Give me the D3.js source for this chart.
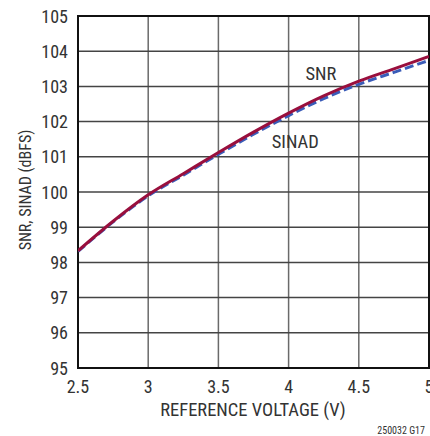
<!DOCTYPE html>
<html>
<head>
<meta charset="utf-8">
<script src="https://cdn.jsdelivr.net/npm/d3@7"></script>
<style>
  body { margin: 0; background: #fff; }
  text { font-family: "Roboto Condensed", "Liberation Sans Narrow", "Arial Narrow", sans-serif; fill: #333; }
</style>
</head>
<body>
<svg id="chart" width="430" height="436"></svg>
<script>
// reference voltage (V)
const voltage = [2.5, 2.75, 3.0, 3.25, 3.5, 3.75, 4.0, 4.25, 4.5, 4.75, 5.0];
// SNR (dBFS)
const snr = [98.33, 99.17, 99.92, 100.52, 101.12, 101.70, 102.24, 102.73, 103.15, 103.50, 103.85];
// SINAD (dBFS)
const sinad = [98.31, 99.15, 99.89, 100.48, 101.07, 101.64, 102.17, 102.65, 103.06, 103.40, 103.74];

const xTicks = [2.5, 3, 3.5, 4, 4.5, 5];
const yTicks = [95, 96, 97, 98, 99, 100, 101, 102, 103, 104, 105];

const svg = d3.select("#chart");
const plotL = 78, plotR = 429, plotT = 16, plotB = 368;

const x = d3.scaleLinear().domain([2.5, 5]).range([plotL, plotR]);
const y = d3.scaleLinear().domain([95, 105]).range([plotB, plotT]);

// grid
svg.append("g").selectAll("line").data(xTicks.slice(1, -1)).join("line")
  .attr("x1", d => x(d)).attr("x2", d => x(d))
  .attr("y1", plotT).attr("y2", plotB)
  .attr("stroke", "#6a6a6a").attr("stroke-width", 1.5);
svg.append("g").selectAll("line").data(yTicks.slice(1, -1)).join("line")
  .attr("x1", plotL).attr("x2", plotR)
  .attr("y1", d => y(d)).attr("y2", d => y(d))
  .attr("stroke", "#444").attr("stroke-width", 1.5);

// frame
svg.append("rect")
  .attr("x", plotL).attr("y", plotT)
  .attr("width", plotR - plotL).attr("height", plotB - plotT)
  .attr("fill", "none").attr("stroke", "#111").attr("stroke-width", 2);

// tick labels
svg.append("g").selectAll("text").data(yTicks).join("text")
  .attr("x", plotL - 10).attr("y", d => y(d))
  .attr("text-anchor", "end").attr("dominant-baseline", "central")
  .attr("font-size", 18)
  .text(d => d);
svg.append("g").selectAll("text").data(xTicks).join("text")
  .attr("x", d => x(d)).attr("y", plotB + 18)
  .attr("text-anchor", "middle")
  .attr("dominant-baseline", "central")
  .attr("font-size", 18)
  .text(d => d);

// axis titles
svg.append("text")
  .attr("x", 253).attr("y", 410)
  .attr("text-anchor", "middle").attr("dominant-baseline", "central")
  .attr("font-size", 18.5)
  .text("REFERENCE VOLTAGE (V)");
svg.append("text")
  .attr("transform", "translate(25,190) rotate(-90)")
  .attr("text-anchor", "middle").attr("dominant-baseline", "central")
  .attr("font-size", 16)
  .text("SNR, SINAD (dBFS)");
svg.append("text")
  .attr("x", 425).attr("y", 430)
  .attr("text-anchor", "end").attr("dominant-baseline", "central")
  .attr("font-size", 10)
  .text("250032 G17");

// curves
const line = d3.line().x((d, i) => x(voltage[i])).y(d => y(d)).curve(d3.curveMonotoneX);
svg.append("clipPath").attr("id", "clip")
  .append("rect").attr("x", plotL).attr("y", plotT).attr("width", plotR - plotL).attr("height", plotB - plotT);

svg.append("path").datum(sinad)
  .attr("d", line).attr("clip-path", "url(#clip)")
  .attr("fill", "none").attr("stroke", "#3a5cb8").attr("stroke-width", 3)
  .attr("stroke-dasharray", "9,4");
svg.append("path").datum(snr)
  .attr("d", line).attr("clip-path", "url(#clip)")
  .attr("fill", "none").attr("stroke", "#990f3d").attr("stroke-width", 3);

// series labels
svg.append("text")
  .attr("x", x(4.12)).attr("y", y(103.35))
  .attr("dominant-baseline", "central").attr("font-size", 18.5)
  .text("SNR");
svg.append("text")
  .attr("x", x(3.88)).attr("y", y(101.42))
  .attr("dominant-baseline", "central").attr("font-size", 18.5)
  .text("SINAD");
</script>
</body>
</html>
